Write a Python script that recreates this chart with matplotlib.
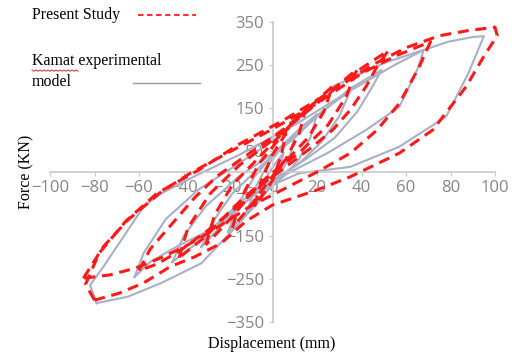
import numpy as np
import matplotlib.pyplot as plt
from matplotlib.lines import Line2D

# Kamat experimental loops (displacement mm, force kN)
kamat_x = [
    [-5, -2, 2, 5, 3, 0, -5],
    [-12, -8, -3, 3, 10, 8, 4, -2, -7, -12],
    [-20, -15, -8, 2, 12, 20, 17, 12, 5, -5, -13, -20],
    [-32, -26, -18, -5, 10, 22, 35, 30, 22, 12, 0, -12, -22, -32],
    [-45, -40, -30, -15, 5, 20, 35, 49, 45, 38, 28, 15, 0, -15, -30, -45],
    [-62, -58, -48, -33, -15, 5, 27, 50, 68, 65, 57, 42, 25, 8, -10, -28, -43, -55, -62],
    [-79, -82, -76, -68, -58, -50, -35, -15, 10, 35, 55, 68, 79, 90, 95,
     88, 78, 57, 35, 12, 0, -15, -32, -50, -65, -79],
]
kamat_y = [
    [-50, -5, 25, 45, 5, -20, -50],
    [-100, -40, 10, 50, 85, 40, 0, -40, -75, -100],
    [-140, -70, -10, 50, 100, 135, 80, 30, -10, -55, -100, -140],
    [-175, -110, -50, 15, 80, 140, 190, 130, 70, 20, -20, -70, -120, -175],
    [-210, -150, -80, -10, 60, 130, 195, 238, 200, 140, 80, 30, -20, -80, -150, -210],
    [-245, -190, -110, -40, 20, 90, 199, 254, 285, 238, 152, 98, 45, 0, -50, -135, -174, -210, -245],
    [-306, -264, -221, -159, -81, -50, -10, 40, 110, 190, 250, 285, 304, 315, 317,
     230, 129, 59, 12, -3, -30, -120, -213, -259, -291, -306],
]

# Present study loops
study_x = [
    [-8, -5, 0, 6, 4, 0, -8],
    [-18, -14, -6, 5, 15, 12, 6, -3, -10, -18],
    [-30, -26, -18, -5, 10, 27, 23, 16, 5, -8, -19, -30],
    [-42, -38, -28, -15, 0, 20, 38, 33, 25, 12, -2, -17, -30, -42],
    [-60, -55, -45, -35, -25, -10, 5, 20, 35, 52,
     47, 42, 35, 27, 18, 8, -5, -18, -30, -42, -52, -60],
    [-85, -76, -65, -50, -37, -20, 0, 20, 40, 55, 71,
     66, 57, 47, 35, 20, 5, -10, -25, -38, -50, -62, -73, -85],
    [-80, -84, -78, -66, -52, -33, -15, 5, 27, 45, 60, 75, 88, 100,
     101, 95, 87, 72, 57, 35, 20, 0, -12, -23, -35, -46, -58, -69, -80],
]
study_y = [
    [-80, -20, 40, 90, 40, -20, -80],
    [-130, -60, 20, 90, 150, 90, 30, -30, -80, -130],
    [-170, -100, -30, 40, 120, 200, 140, 80, 20, -40, -110, -170],
    [-200, -130, -50, 15, 75, 160, 240, 175, 110, 45, -10, -80, -150, -200],
    [-230, -180, -120, -60, -10, 45, 100, 165, 225, 283,
     246, 199, 145, 98, 59, 20, -30, -90, -140, -185, -215, -230],
    [-248, -174, -112, -46, -3, 45, 100, 160, 230, 270, 304,
     246, 160, 98, 44, 0, -40, -80, -130, -170, -200, -225, -240, -248],
    [-299, -262, -190, -115, -50, 5, 65, 121, 190, 250, 290, 318, 330, 338,
     318, 270, 199, 98, 44, -11, -42, -77, -115, -166, -198, -221, -259, -283, -299],
]

xticks = [-100, -80, -60, -40, -20, 0, 20, 40, 60, 80, 100]
yticks = [-350, -250, -150, -50, 50, 150, 250, 350]

gray = "#a9afc4"
red = "#ff1a1a"

fig = plt.figure(figsize=(5.13, 3.58), dpi=100)
ax = fig.add_axes([50 / 513, 36 / 358, 445 / 513, 300 / 358])

for lx, ly in zip(kamat_x, kamat_y):
    ax.plot(lx, ly, color=gray, lw=1.5, clip_on=False, zorder=2)
for lx, ly in zip(study_x, study_y):
    ax.plot(lx, ly, color=red, lw=2.2, ls=(0, (3.6, 2.2)), clip_on=False, zorder=3)

ax.set_xlim(-100, 100)
ax.set_ylim(-350, 350)
ax.set_xticks(xticks)
ax.set_yticks(yticks)
ax.set_xticklabels([str(t).replace("-", "\u2212") for t in xticks])
ax.set_yticklabels([str(t).replace("-", "\u2212") for t in yticks])
ax.spines["left"].set_position(("data", 0))
ax.spines["bottom"].set_position(("data", 0))
for s in ["top", "right"]:
    ax.spines[s].set_visible(False)
for s in ["left", "bottom"]:
    ax.spines[s].set_color("#c8c8c8")
    ax.spines[s].set_linewidth(1.2)
ax.tick_params(colors="#c8c8c8", labelcolor="#858585", labelsize=12, length=3,
               direction="out", pad=3)
for lab in ax.get_xticklabels() + ax.get_yticklabels():
    lab.set_family("Open Sans")
ax.set_axisbelow(True)
ax.patch.set_visible(False)

serif = "Liberation Serif"
fig.text(26 / 513, 1 - 172 / 358, "Force (KN)", rotation=90, family=serif,
         fontsize=11.5, ha="center", va="center")
fig.text(272 / 513, 1 - 344 / 358, "Displacement (mm)", family=serif,
         fontsize=11.5, ha="center", va="center")

# legend drawn by hand, as in the original
fig.text(32 / 513, 1 - 15 / 358, "Present Study", family=serif, fontsize=11.5,
         ha="left", va="center")
fig.add_artist(Line2D([138 / 513, 196 / 513], [1 - 15 / 358, 1 - 15 / 358],
                      color=red, lw=1.3, ls=(0, (3, 2))))
fig.text(32 / 513, 1 - 61 / 358, "Kamat experimental", family=serif, fontsize=11.5,
         ha="left", va="center")
fig.text(32 / 513, 1 - 82 / 358, "model", family=serif, fontsize=11.5,
         ha="left", va="center")
fig.add_artist(Line2D([133 / 513, 200 / 513], [1 - 83 / 358, 1 - 83 / 358],
                      color="#9a9a9a", lw=1))
# spell-check squiggle under "Kamat"
sq = np.linspace(32, 78, 24)
fig.add_artist(Line2D(sq / 513, 1 - (70 + 1.2 * (np.arange(24) % 2)) / 358,
                      color="#d04040", lw=0.8))

fig.savefig("out.png", dpi=100)
